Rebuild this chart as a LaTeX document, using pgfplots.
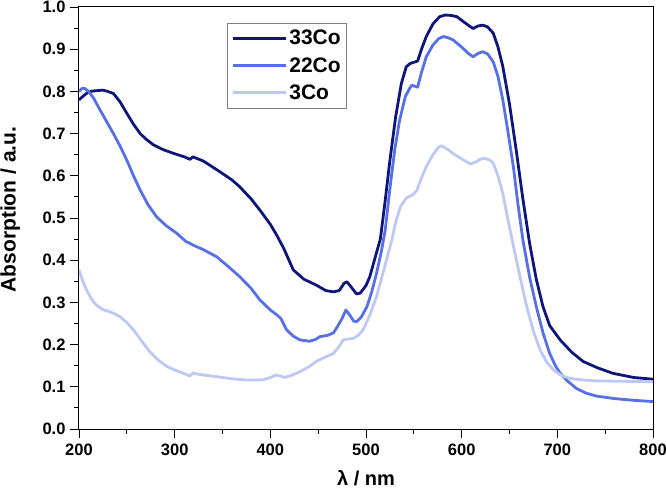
\documentclass[border=0pt]{standalone}
\usepackage{pgfplots}
\pgfplotsset{compat=1.18}
\usepackage{fontspec}
\setmainfont{Liberation Sans}
\definecolor{cA}{RGB}{14,22,124}
\definecolor{cB}{RGB}{88,112,230}
\definecolor{cC}{RGB}{190,200,245}
\begin{document}
\begin{tikzpicture}[x=1pt,y=1pt]
\useasboundingbox (-79,-61) rectangle (587,429);
\begin{axis}[
  at={(0,0)}, anchor=south west,
  scale only axis, width=574pt, height=422pt,
  xmin=200, xmax=800, ymin=0, ymax=1.0,
  xtick={200,300,...,800}, ytick={0,0.1,...,1.0},
  minor tick num=1,
  xtick pos=bottom, ytick pos=left,
  tick align=outside,
  major tick length=9pt, minor tick length=5pt,
  major tick style={black, line width=0.9pt},
  minor tick style={black, line width=0.9pt},
  axis line style={line width=1pt},
  /pgf/number format/assume math mode=true,
  yticklabels={0.0,0.1,0.2,0.3,0.4,0.5,0.6,0.7,0.8,0.9,1.0},
  xticklabels={200,300,400,500,600,700,800},
  tick label style={font=\fontsize{16.5}{16.5}\selectfont\bfseries},
  xticklabel style={yshift=-2pt},
  yticklabel style={xshift=-1pt},
  xlabel={λ / nm},
  ylabel={Absorption / a.u.},
  xlabel style={font=\fontsize{20}{20}\selectfont\bfseries, at={(axis description cs:0.5,-0.116)}, anchor=center},
  ylabel style={font=\fontsize{21}{21}\selectfont\bfseries, at={(axis description cs:-0.12,0.52)}, anchor=center},
  legend style={at={(axis description cs:0.258,0.962)}, anchor=north west,
    draw=gray, line width=0.6pt, font=\fontsize{21}{21}\selectfont\bfseries,
    row sep=7pt, inner xsep=4pt, inner ysep=5pt},
  legend cell align=left,
  legend image code/.code={\draw[#1, line width=3pt] (0pt,0pt) -- (53pt,0pt);},
  every axis plot/.append style={line width=2.8pt, line join=round},
]
\addplot[cA] coordinates {
(200,0.780)(205,0.790)(210,0.799)(215,0.801)(225,0.803)(230,0.800)(236,0.795)(243,0.775)
(250,0.748)(257,0.722)(264,0.700)(270,0.687)(278,0.673)(288,0.662)(299,0.653)(310,0.645)
(316,0.639)(319,0.645)(330,0.635)(347,0.610)(360,0.590)(368,0.574)(380,0.545)(389,0.519)
(400,0.485)(407,0.458)(414,0.428)(424,0.377)(435,0.355)(448,0.341)(458,0.328)(466,0.325)
(472,0.328)(477,0.345)(480,0.349)(484,0.338)(490,0.320)(494,0.322)(500,0.340)(504,0.361)
(510,0.410)(515,0.450)(520,0.540)(525,0.637)(531,0.740)(537,0.819)(542,0.858)(546,0.866)
(550,0.869)(554,0.872)(558,0.900)(563,0.930)(570,0.960)(577,0.977)(583,0.981)(589,0.980)
(595,0.977)(602,0.965)(608,0.955)(612,0.949)(617,0.955)(622,0.957)(627,0.953)(633,0.938)
(638,0.905)(643,0.859)(650,0.770)(657,0.661)(664,0.545)(671,0.440)(678,0.355)(685,0.290)
(692,0.245)(703,0.211)(715,0.182)(727,0.160)(742,0.145)(758,0.132)(780,0.122)(800,0.118)
};
\addlegendentry{33Co}
\addplot[cB] coordinates {
(200,0.800)(203,0.807)(206,0.807)(210,0.800)(215,0.785)(222,0.756)(229,0.728)(236,0.700)
(243,0.670)(250,0.637)(257,0.600)(264,0.566)(272,0.532)(281,0.503)(291,0.482)(302,0.464)
(312,0.444)(316,0.440)(319,0.436)(330,0.425)(344,0.408)(356,0.385)(368,0.361)(380,0.333)
(389,0.306)(400,0.282)(407,0.270)(411,0.262)(417,0.235)(424,0.220)(431,0.211)(441,0.208)
(447,0.212)(452,0.219)(460,0.222)(466,0.228)(470,0.242)(475,0.262)(479,0.282)(483,0.270)
(487,0.256)(490,0.254)(495,0.265)(501,0.290)(506,0.325)(511,0.369)(516,0.420)(520,0.470)
(525,0.570)(530,0.661)(535,0.730)(541,0.787)(545,0.805)(548,0.815)(551,0.812)(554,0.810)
(558,0.845)(563,0.882)(570,0.910)(576,0.925)(581,0.930)(586,0.927)(591,0.922)(600,0.905)
(607,0.890)(612,0.882)(617,0.890)(622,0.894)(627,0.889)(633,0.870)(638,0.835)(643,0.780)
(648,0.710)(654,0.622)(659,0.530)(664,0.448)(671,0.360)(678,0.290)(685,0.228)(692,0.179)
(698,0.150)(703,0.132)(710,0.115)(720,0.096)(730,0.085)(741,0.078)(760,0.072)(780,0.068)
(800,0.065)
};
\addlegendentry{22Co}
\addplot[cC] coordinates {
(200,0.377)(204,0.350)(208,0.329)(213,0.308)(218,0.294)(225,0.283)(232,0.278)(238,0.272)
(243,0.266)(250,0.252)(257,0.235)(265,0.210)(274,0.183)(283,0.163)(292,0.148)(300,0.140)
(309,0.132)(316,0.126)(319,0.132)(330,0.128)(344,0.124)(360,0.119)(375,0.116)(385,0.116)
(393,0.117)(400,0.122)(406,0.128)(410,0.126)(415,0.122)(422,0.127)(431,0.136)(440,0.147)
(448,0.160)(457,0.170)(466,0.179)(470,0.190)(473,0.199)(476,0.211)(481,0.213)(487,0.215)
(492,0.222)(497,0.235)(504,0.270)(511,0.314)(519,0.380)(527,0.448)(531,0.490)(536,0.527)
(542,0.547)(546,0.552)(549,0.555)(553,0.565)(558,0.595)(563,0.622)(570,0.650)(576,0.668)
(579,0.671)(585,0.663)(591,0.653)(600,0.640)(609,0.628)(615,0.633)(620,0.640)(624,0.641)
(629,0.638)(633,0.630)(638,0.600)(643,0.558)(648,0.500)(654,0.435)(661,0.360)(668,0.290)
(675,0.232)(682,0.187)(689,0.158)(696,0.140)(704,0.127)(713,0.120)(727,0.116)(741,0.114)
(770,0.113)(800,0.112)
};
\addlegendentry{3Co}
\end{axis}
\end{tikzpicture}
\end{document}
